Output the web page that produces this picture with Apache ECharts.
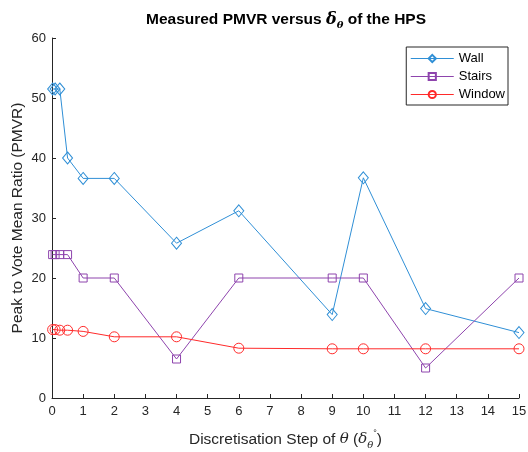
<!DOCTYPE html>
<html>
<head>
<meta charset="utf-8">
<script src="https://cdn.jsdelivr.net/npm/echarts@6/dist/echarts.min.js"></script>
<style>
  html, body { margin: 0; padding: 0; background: #fff; }
  #chart { width: 528px; height: 452px; }
</style>
</head>
<body>
<div id="chart"></div>
<script>
// discretisation steps (x)
const steps = [0.02, 0.1, 0.25, 0.5, 1, 2, 4, 6, 9, 10, 12, 15];
const wallVals = [51.5, 51.5, 51.5, 40, 36.6, 36.6, 25.8, 31.2, 13.9, 36.7, 14.9, 10.9];
const stairsVals = [23.9, 23.9, 23.9, 23.9, 20, 20, 6.5, 20, 20, 20, 5, 20];
const windowVals = [11.4, 11.4, 11.3, 11.3, 11.1, 10.2, 10.2, 8.3, 8.2, 8.2, 8.2, 8.2];

const pairs = (vals) => steps.map((x, i) => [x, vals[i]]);

const axisCol = '#262626';
const font = 'Liberation Sans, Arial, sans-serif';
const serif = 'DejaVu Serif, serif';

function makeSeries (name, vals, color, symbol, size) {
  return {
    name: name,
    type: 'line',
    data: pairs(vals),
    symbol: symbol,
    symbolSize: size,
    showAllSymbol: true,
    lineStyle: { color: color, width: 1 },
    itemStyle: { color: 'rgba(255,255,255,0)', borderColor: color, borderWidth: 1 },
    emphasis: { disabled: true }
  };
}

const myChart = echarts.init(document.getElementById('chart'));
myChart.setOption({
  animation: false,
  title: {
    text: 'Measured PMVR versus {d|δ}{s|θ} of the HPS',
    left: 281,
    textAlign: 'center',
    top: 4,
    textStyle: {
      fontFamily: font,
      fontSize: 15.5,
      fontWeight: 'bold',
      color: '#000',
      rich: {
        d: { fontFamily: serif, fontStyle: 'italic', fontSize: 16, color: '#000' },
        s: { fontFamily: serif, fontStyle: 'italic', fontSize: 10, color: '#000', padding: [11, 0, 0, 0] }
      }
    }
  },
  legend: {
    orient: 'vertical',
    right: 20,
    top: 47,
    itemWidth: 43,
    itemHeight: 9,
    itemGap: 5,
    padding: [5, 3, 4, 4],
    borderColor: '#262626',
    borderWidth: 1,
    backgroundColor: '#fff',
    lineStyle: { width: 1 },
    textStyle: { fontFamily: font, fontSize: 13, color: '#000', lineHeight: 11 },
    data: ['Wall', 'Stairs', 'Window']
  },
  grid: { left: 52, right: 9, top: 38, bottom: 54, outerBoundsMode: 'none', containLabel: false },
  xAxis: {
    type: 'value',
    min: 0,
    max: 15,
    interval: 1,
    name: 'Discretisation Step of {t|θ} ({d|δ}{s|θ}{p|°})',
    nameLocation: 'middle',
    nameGap: 31,
    nameMoveOverlap: false,
    nameTextStyle: {
      fontFamily: font,
      fontSize: 15.5,
      color: axisCol,
      rich: {
        t: { fontFamily: serif, fontStyle: 'italic', fontSize: 15, color: axisCol },
        d: { fontFamily: serif, fontStyle: 'italic', fontSize: 15, color: axisCol },
        s: { fontFamily: serif, fontStyle: 'italic', fontSize: 10, color: axisCol, padding: [11, 0, 0, 0] },
        p: { fontSize: 9, color: axisCol, padding: [0, 0, 11, 0] }
      }
    },
    axisLine: { lineStyle: { color: axisCol, width: 1 } },
    axisTick: { inside: true, length: 4, lineStyle: { color: axisCol } },
    axisLabel: { fontFamily: font, fontSize: 13, color: axisCol, margin: 7 },
    splitLine: { show: false }
  },
  yAxis: {
    type: 'value',
    min: 0,
    max: 60,
    interval: 10,
    name: 'Peak to Vote Mean Ratio (PMVR)',
    nameLocation: 'middle',
    nameGap: 26,
    nameMoveOverlap: false,
    nameTextStyle: { fontFamily: font, fontSize: 15.5, color: axisCol },
    axisLine: { show: true, lineStyle: { color: axisCol, width: 1 } },
    axisTick: { show: true, inside: true, length: 4, lineStyle: { color: axisCol } },
    axisLabel: { fontFamily: font, fontSize: 13, color: axisCol, margin: 6 },
    splitLine: { show: false }
  },
  series: [
    makeSeries('Wall', wallVals, '#2f8fd6', 'diamond', [10, 12]),
    makeSeries('Stairs', stairsVals, '#8e44ad', 'rect', 8),
    makeSeries('Window', windowVals, '#ff2a2a', 'circle', 10)
  ]
});
</script>
</body>
</html>
